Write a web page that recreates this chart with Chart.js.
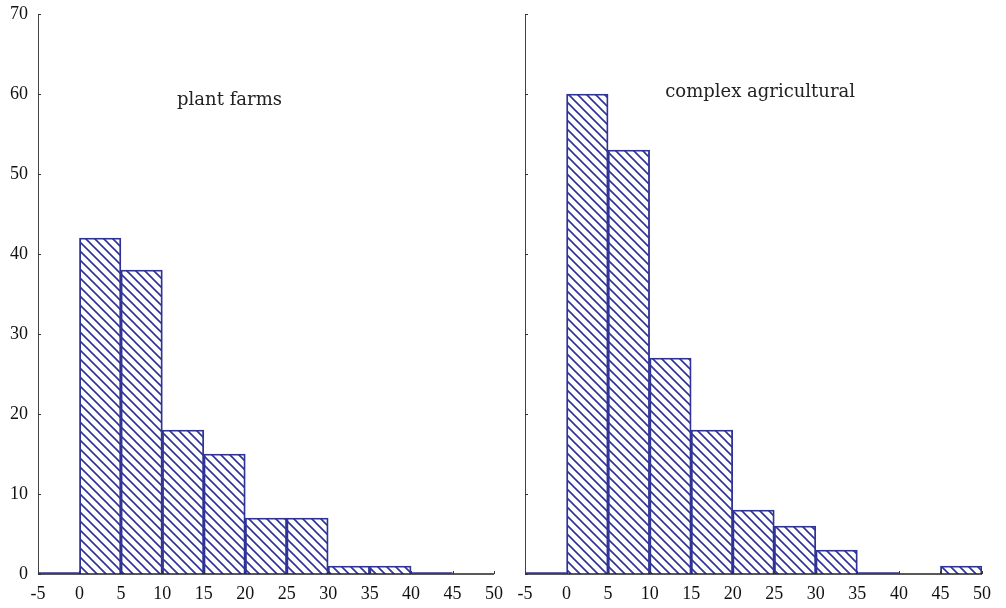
<!DOCTYPE html>
<html><head><meta charset="utf-8">
<script src="https://cdn.jsdelivr.net/npm/chart.js@4"></script>
<style>
html,body{margin:0;padding:0;background:#fff;}
#wrap{position:relative;width:1006px;height:608px;}
#c1{position:absolute;left:0;top:0;}
#c2{position:absolute;left:510px;top:0;}
</style></head><body>
<div id="wrap"><canvas id="c1" width="510" height="608"></canvas><canvas id="c2" width="496" height="608"></canvas></div>
<script>
const binCenters = [-2.5, 2.5, 7.5, 12.5, 17.5, 22.5, 27.5, 32.5, 37.5, 42.5, 47.5];
const plantFarms = [0, 42, 38, 18, 15, 7, 7, 1, 1, 0, null];
const complexAgricultural = [0, 60, 53, 27, 18, 8, 6, 3, 0, null, 1];
const xTicks = [-5, 0, 5, 10, 15, 20, 25, 30, 35, 40, 45, 50];
const yTicks = [0, 10, 20, 30, 40, 50, 60, 70];
const panelTitles = ["plant farms", "complex agricultural"];
const titleX = [18.1, 23.3];
const titleY = [59.25, 60.25];

const BLUE = '#303396';
const FONT = '"Liberation Serif", "DejaVu Serif", serif';
const TFONT = '"DejaVu Serif", "Liberation Serif", serif';

function hatch() {
  const s = 9;
  const c = document.createElement('canvas');
  c.width = s; c.height = s;
  const g = c.getContext('2d');
  g.strokeStyle = BLUE; g.lineWidth = 1.6;
  g.beginPath();
  g.moveTo(-1, -1); g.lineTo(s + 1, s + 1);
  g.moveTo(-1, s - 1); g.lineTo(1, s + 1);
  g.moveTo(s - 1, -1); g.lineTo(s + 1, 1);
  g.stroke();
  return g.createPattern(c, 'repeat');
}

const decor = {
  id: 'decor',
  afterDraw(chart, args, opts) {
    const ctx = chart.ctx, xs = chart.scales.x, ys = chart.scales.y;
    const y0 = ys.getPixelForValue(0);
    ctx.save();
    const ds = chart.data.datasets[0].data;
    ctx.strokeStyle = BLUE; ctx.lineWidth = 1.2;
    ds.forEach(p => {
      if (p.y === 0) {
        ctx.beginPath();
        ctx.moveTo(xs.getPixelForValue(p.x - 2.5), y0 - 1.2);
        ctx.lineTo(xs.getPixelForValue(p.x + 2.5), y0 - 1.2);
        ctx.stroke();
      }
    });
    ctx.strokeStyle = '#222'; ctx.lineWidth = 1.5;
    ctx.beginPath();
    ctx.moveTo(xs.left, y0); ctx.lineTo(xs.right, y0);
    ctx.stroke();
    ctx.strokeStyle = '#444'; ctx.lineWidth = 1;
    ctx.beginPath();
    ctx.moveTo(xs.left + 0.5, ys.top); ctx.lineTo(xs.left + 0.5, y0);
    ctx.stroke();
    ctx.strokeStyle = '#333'; ctx.lineWidth = 1;
    ctx.beginPath();
    yTicks.forEach(v => {
      const py = Math.round(ys.getPixelForValue(v)) + 0.5;
      ctx.moveTo(xs.left, py); ctx.lineTo(xs.left + 3, py);
    });
    xTicks.forEach(v => {
      const px = Math.round(xs.getPixelForValue(v)) + 0.5;
      ctx.moveTo(px, y0); ctx.lineTo(px, y0 - 3);
    });
    ctx.stroke();
    ctx.fillStyle = '#222';
    ctx.font = '18px ' + TFONT;
    ctx.textAlign = 'center'; ctx.textBaseline = 'middle';
    ctx.fillText(opts.title, xs.getPixelForValue(opts.tx), ys.getPixelForValue(opts.ty));
    ctx.restore();
  }
};

function makeChart(id, values, idx, showYLabels, axisWidth, padRight) {
  const pts = binCenters.map((x, i) => ({x: x, y: values[i]})).filter(p => p.y !== null);
  return new Chart(document.getElementById(id), {
    type: 'bar',
    data: {datasets: [{
      data: pts,
      backgroundColor: hatch(),
      borderColor: BLUE,
      borderWidth: 1.2,
      barPercentage: 1,
      categoryPercentage: 1,
      grouped: false
    }]},
    options: {
      responsive: false, animation: false,
      layout: {autoPadding: false, padding: {top: 14, right: padRight, bottom: 0, left: 0}},
      plugins: {legend: {display: false}, tooltip: {enabled: false},
        decor: {title: panelTitles[idx], tx: titleX[idx], ty: titleY[idx]}},
      scales: {
        x: {type: 'linear', min: -5, max: 50, offset: false,
          afterBuildTicks: s => { s.ticks = xTicks.map(v => ({value: v})); },
          afterFit: s => { s.height = 34; s.paddingLeft = 0; s.paddingRight = 0; },
          grid: {display: false, drawTicks: false, offset: false}, border: {display: false},
          ticks: {color: '#111', font: {family: FONT, size: 18}, padding: 9, maxRotation: 0, autoSkip: false}},
        y: {min: 0, max: 70,
          afterBuildTicks: s => { s.ticks = yTicks.map(v => ({value: v})); },
          afterFit: s => { s.width = axisWidth; s.paddingTop = 0; s.paddingBottom = 0; },
          grid: {display: false, drawTicks: false}, border: {display: false},
          ticks: {display: showYLabels, color: '#111', font: {family: FONT, size: 18}, padding: 10}}
      }
    },
    plugins: [decor]
  });
}

makeChart('c1', plantFarms, 0, true, 38, 16);
makeChart('c2', complexAgricultural, 1, false, 15, 24);
</script>
</body></html>
